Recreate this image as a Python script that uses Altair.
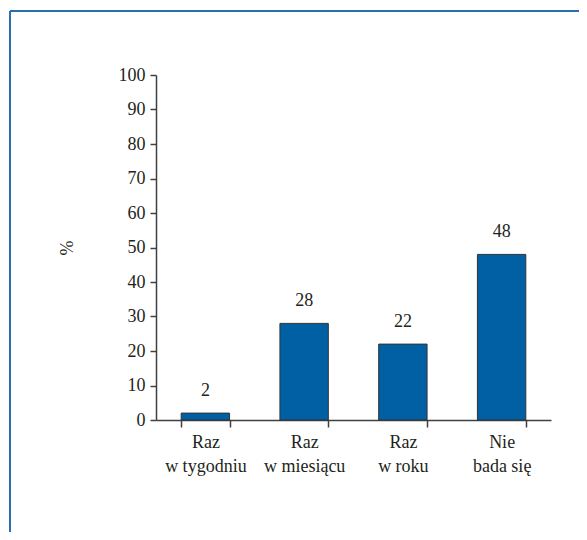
import altair as alt
import pandas as pd

categories = ["Raz|w tygodniu", "Raz|w miesiącu", "Raz|w roku", "Nie|bada się"]
values = [2, 28, 22, 48]
y_ticks = [0, 10, 20, 30, 40, 50, 60, 70, 80, 90, 100]

df = pd.DataFrame({"cat": categories, "val": values})

FONT = "Liberation Serif"
FS = 18
TXT = "#231f20"
W, H = 395, 345

x_enc = alt.X(
    "cat:N",
    sort=categories,
    scale=alt.Scale(paddingInner=0.51, paddingOuter=0.255),
    axis=alt.Axis(
        title=None,
        labelAngle=0,
        labelExpr="split(datum.label, '|')",
        labelLineHeight=24,
        labelPadding=6,
        labelFontSize=FS,
        labelFont=FONT,
        labelColor=TXT,
        tickBand="extent",
        tickSize=7,
        tickColor="#404040",
        domainColor="#404040",
        domainWidth=1.5,
        tickWidth=1.5,
    ),
)

y_axis = alt.Axis(
    title="%",
    values=y_ticks,
    labelOverlap=False,
    tickSize=6,
    labelPadding=5,
    labelFontSize=FS,
    labelFont=FONT,
    labelColor=TXT,
    tickColor="#404040",
    domainColor="#404040",
    domainWidth=1.5,
    tickWidth=1.5,
    grid=False,
    titleFont=FONT,
    titleFontSize=FS,
    titleFontWeight="normal",
    titleColor=TXT,
    titleAngle=-90,
    titleX=-89,
    titleY=172.5,
    titleAlign="center",
    titleBaseline="middle",
)

y_enc = alt.Y("val:Q", scale=alt.Scale(domain=[0, 100]), axis=y_axis)

bars = alt.Chart(df).mark_bar(color="#0060a3", stroke="#333333", strokeWidth=1).encode(
    x=x_enc, y=y_enc
)

labels = alt.Chart(df).mark_text(
    dy=-22, fontSize=FS, font=FONT, color=TXT
).encode(x=x_enc, y=y_enc, text="val:Q")

frame_left = alt.Chart(df).mark_rule(color="#2a70b0", strokeWidth=1.5).encode(
    x=alt.value(-146), y=alt.value(-64), y2=alt.value(600)
)
frame_top = alt.Chart(df).mark_rule(color="#2a70b0", strokeWidth=1.5).encode(
    x=alt.value(-146), x2=alt.value(700), y=alt.value(-64)
)

chart = alt.layer(frame_left, frame_top, bars, labels).properties(
    width=W,
    height=H,
    background="white",
    view=alt.ViewBackground(strokeWidth=0),
    autosize=alt.AutoSizeParams(type="none"),
    padding={"left": 148, "top": 67, "right": 28, "bottom": 112},
)

chart.save("out.html", embed_options={"renderer": "svg", "actions": False})
